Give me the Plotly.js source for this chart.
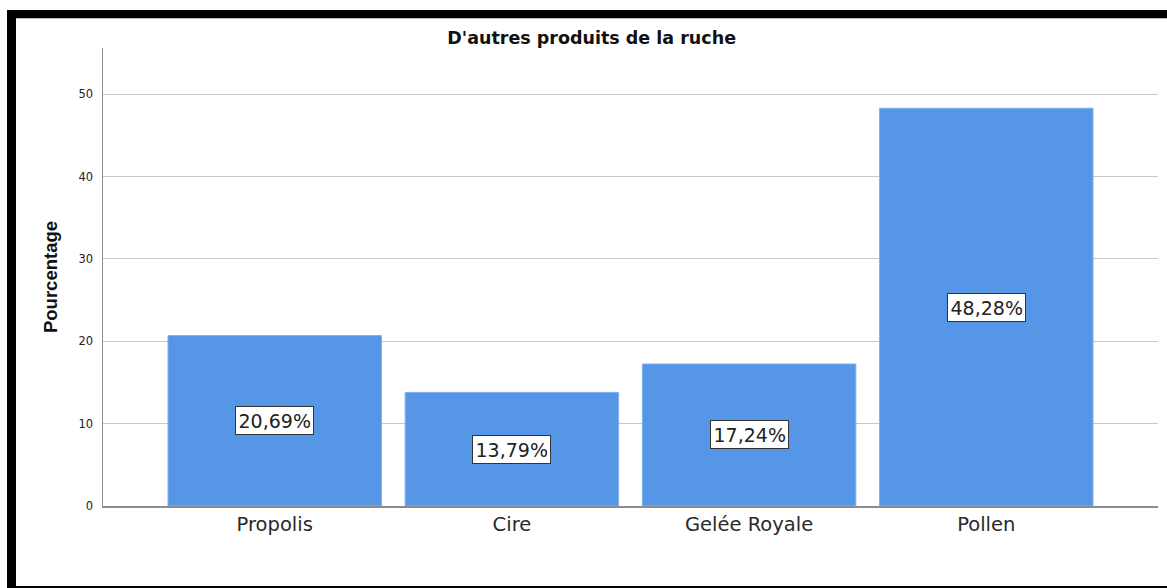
<!DOCTYPE html>
<html>
<head>
<meta charset="utf-8">
<script src="https://cdn.plot.ly/plotly-3.0.1.min.js"></script>
<style>
  html, body { margin: 0; padding: 0; background: #fff; }
  #wrap { position: relative; width: 1167px; height: 588px; overflow: hidden; }
  #chart { position: absolute; left: 0; top: 0; width: 1167px; height: 588px; }
  .bd { position: absolute; background: #000; pointer-events: none; }
</style>
</head>
<body>
<div id="wrap">
  <div id="chart"></div>
  <div class="bd" style="left:7px; top:10px; width:1160px; height:8px;"></div>
  <div class="bd" style="left:7px; top:18px; width:1160px; height:1px; background:#bbb;"></div>
  <div class="bd" style="left:7px; top:10px; width:9px; height:578px;"></div>
  <div class="bd" style="left:7px; top:586px; width:1160px; height:2px;"></div>
</div>
<script>
const categories = ['Propolis', 'Cire', 'Gelée Royale', 'Pollen'];
const percentages = [20.69, 13.79, 17.24, 48.28];
const valueLabels = ['20,69%', '13,79%', '17,24%', '48,28%'];
const yTicks = [0, 10, 20, 30, 40, 50];

const trace = {
  type: 'bar',
  x: categories,
  y: percentages,
  marker: { color: '#5596e6', line: { color: '#7fb0ee', width: 1 } },
  hoverinfo: 'none'
};

const annotations = categories.map((c, i) => ({
  x: c,
  y: percentages[i] / 2,
  xref: 'x',
  yref: 'y',
  text: valueLabels[i],
  showarrow: false,
  font: { family: 'DejaVu Sans', size: 19, color: '#222' },
  bgcolor: '#ffffff',
  bordercolor: '#333333',
  borderwidth: 1,
  borderpad: 2.5
}));

const layout = {
  width: 1167,
  height: 588,
  margin: { l: 103, r: 9, t: 48, b: 82, pad: 0 },
  paper_bgcolor: '#ffffff',
  plot_bgcolor: '#ffffff',
  showlegend: false,
  bargap: 0.1,
  title: {
    text: "D'autres produits de la ruche",
    font: { family: 'DejaVu Sans', size: 17.5, color: '#111', weight: 'bold' },
    x: 0.507, xref: 'container', xanchor: 'center',
    y: 1 - 38 / 588, yref: 'container', yanchor: 'middle'
  },
  xaxis: {
    type: 'category',
    range: [-0.724, 3.724],
    showgrid: false,
    showline: true,
    linecolor: '#8c8c8c',
    linewidth: 1.5,
    ticks: '',
    tickfont: { family: 'DejaVu Sans', size: 19.5, color: '#2a2a2a' },
    fixedrange: true
  },
  yaxis: {
    range: [0, 55.6],
    tickvals: yTicks,
    ticktext: yTicks.map(String),
    showgrid: true,
    gridcolor: '#c8c8c8',
    gridwidth: 1,
    zeroline: false,
    showline: true,
    linecolor: '#8c8c8c',
    linewidth: 1.5,
    ticks: '',
    ticklabelstandoff: 6,
    tickfont: { family: 'DejaVu Sans', size: 11.5, color: '#222' },
    title: {
      text: 'Pourcentage',
      font: { family: 'Liberation Sans', size: 18.5, color: '#111', weight: 'bold' },
      standoff: 16
    },
    fixedrange: true
  },
  annotations: annotations
};

Plotly.newPlot('chart', [trace], layout, { displayModeBar: false, staticPlot: true });
</script>
</body>
</html>
